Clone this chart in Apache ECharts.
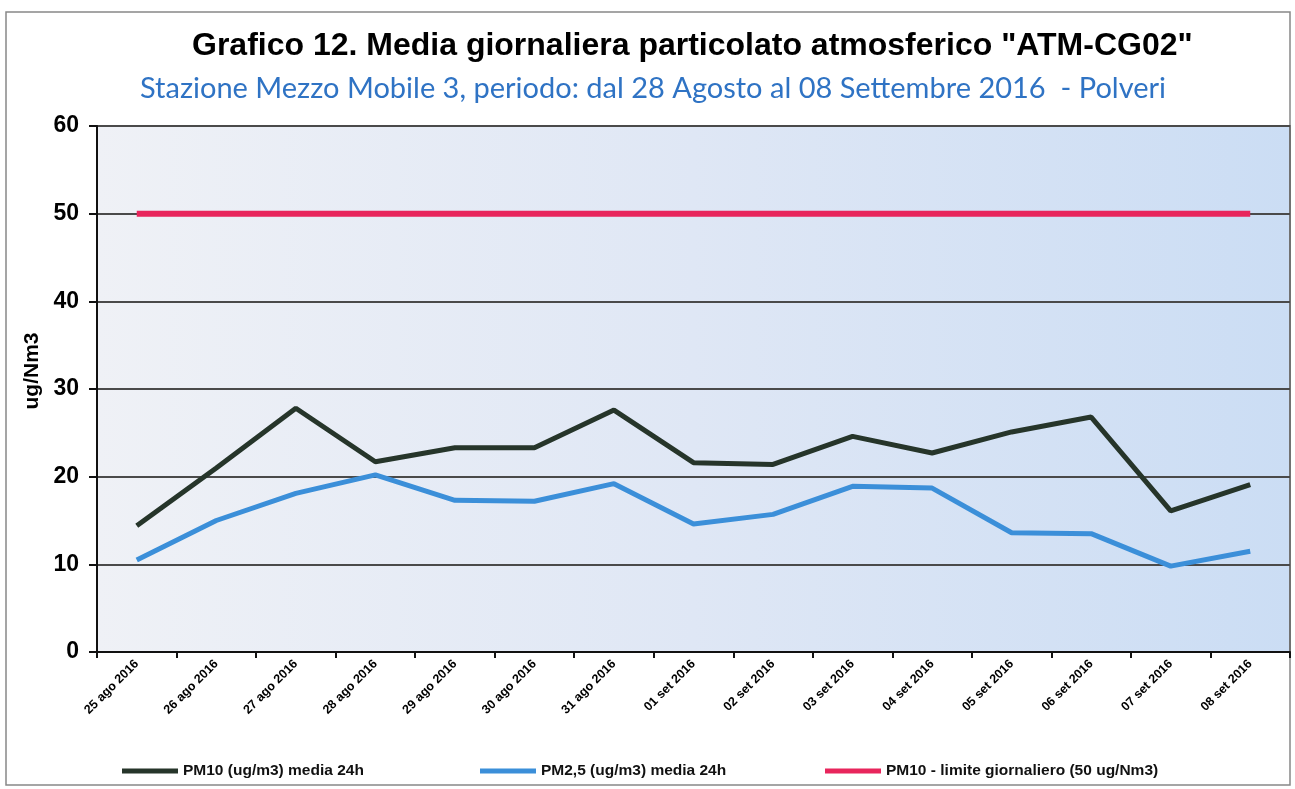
<!DOCTYPE html>
<html>
<head>
<meta charset="utf-8">
<title>Grafico 12</title>
<script src="https://cdn.jsdelivr.net/npm/echarts@6/dist/echarts.min.js"></script>
<style>
  html, body { margin: 0; padding: 0; background: #ffffff; }
  #chart { width: 1295px; height: 789px; }
</style>
</head>
<body>
<div id="chart"></div>
<script>
// Giorni di campionamento
var days = ['25 ago 2016', '26 ago 2016', '27 ago 2016', '28 ago 2016', '29 ago 2016',
            '30 ago 2016', '31 ago 2016', '01 set 2016', '02 set 2016', '03 set 2016',
            '04 set 2016', '05 set 2016', '06 set 2016', '07 set 2016', '08 set 2016'];

// Medie giornaliere (ug/m3)
var pm10 = [14.4, 21.0, 27.8, 21.7, 23.3, 23.3, 27.6, 21.6, 21.4, 24.6, 22.7, 25.1, 26.8, 16.1, 19.1];
var pm25 = [10.5, 15.0, 18.1, 20.2, 17.3, 17.2, 19.2, 14.6, 15.7, 18.9, 18.7, 13.6, 13.5, 9.8, 11.5];
// Limite giornaliero PM10 (ug/Nm3)
var limitePm10 = [50, 50, 50, 50, 50, 50, 50, 50, 50, 50, 50, 50, 50, 50, 50];

var yTicks = [0, 10, 20, 30, 40, 50, 60];

var names = ['PM10 (ug/m3) media 24h', 'PM2,5 (ug/m3) media 24h', 'PM10 - limite giornaliero (50 ug/Nm3)'];
var colors = ['#26352a', '#3b8fd9', '#e8255c'];

var font = '"Liberation Sans", Arial, sans-serif';

var chart = echarts.init(document.getElementById('chart'), null, { renderer: 'canvas' });

function legendAt(i, left) {
  return {
    data: [{ name: names[i], icon: 'rect' }],
    left: left,
    top: 763,
    padding: 0,
    itemWidth: 56,
    itemHeight: 5,
    itemGap: 4,
    textStyle: { fontFamily: font, fontSize: 15.5, fontWeight: 'bold', color: '#111' }
  };
}

var option = {
  animation: false,
  backgroundColor: '#ffffff',
  title: [
    {
      text: 'Grafico 12. Media giornaliera particolato atmosferico "ATM-CG02"',
      left: 187,
      top: 25,
      textStyle: { fontFamily: font, fontSize: 32, fontWeight: 'bold', color: '#000' }
    },
    {
      text: 'Stazione Mezzo Mobile 3, periodo: dal 28 Agosto al 08 Settembre 2016  - Polveri',
      left: 135,
      top: 69,
      textStyle: { fontFamily: 'Lato, "Open Sans", sans-serif', fontSize: 29, fontWeight: 'normal', color: '#2f73c4' }
    }
  ],
  legend: [legendAt(0, 122), legendAt(1, 480), legendAt(2, 825)],
  graphic: [
    {
      type: 'rect',
      shape: { x: 6, y: 12, width: 1284, height: 773 },
      style: { fill: 'none', stroke: '#888', lineWidth: 1.5 },
      silent: true
    }
  ],
  grid: {
    left: 97,
    right: 5,
    top: 126,
    bottom: 137,
    show: true,
    borderColor: '#333',
    borderWidth: 2,
    backgroundColor: {
      type: 'linear', x: 0, y: 0, x2: 1, y2: 0,
      colorStops: [
        { offset: 0, color: '#eff1f6' },
        { offset: 0.5, color: '#dfe7f5' },
        { offset: 1, color: '#cbddf4' }
      ]
    }
  },
  xAxis: {
    type: 'category',
    data: days,
    boundaryGap: true,
    axisLine: { lineStyle: { color: '#111', width: 2 } },
    axisTick: { show: true, length: 6, lineStyle: { color: '#111', width: 2 } },
    axisLabel: {
      rotate: 45,
      interval: 0,
      margin: 10,
      fontFamily: font,
      fontSize: 12.5,
      fontWeight: 'bold',
      color: '#000'
    },
    splitLine: { show: false }
  },
  yAxis: {
    type: 'value',
    min: 0,
    max: 60,
    interval: 10,
    name: 'ug/Nm3',
    nameLocation: 'middle',
    nameGap: 50,
    nameTextStyle: { fontFamily: font, fontSize: 21, fontWeight: 'bold', color: '#000', padding: [0, 0, 0, 36] },
    axisLine: { show: true, lineStyle: { color: '#111', width: 2 } },
    axisTick: { show: true, length: 8, lineStyle: { color: '#111', width: 2 } },
    axisLabel: {
      margin: 18,
      fontFamily: font,
      fontSize: 23,
      fontWeight: 'bold',
      color: '#000',
      formatter: function (v) { return yTicks.indexOf(v) >= 0 ? String(v) : ''; }
    },
    splitLine: { show: true, lineStyle: { color: '#4a4a4a', width: 2 } }
  },
  series: [
    {
      name: names[0], type: 'line', data: pm10, showSymbol: false, symbol: 'none',
      lineStyle: { color: colors[0], width: 5 }, itemStyle: { color: colors[0] }, z: 3
    },
    {
      name: names[1], type: 'line', data: pm25, showSymbol: false, symbol: 'none',
      lineStyle: { color: colors[1], width: 5 }, itemStyle: { color: colors[1] }, z: 3
    },
    {
      name: names[2], type: 'line', data: limitePm10, showSymbol: false, symbol: 'none',
      lineStyle: { color: colors[2], width: 6 }, itemStyle: { color: colors[2] }, z: 3
    }
  ]
};

chart.setOption(option);
</script>
</body>
</html>
